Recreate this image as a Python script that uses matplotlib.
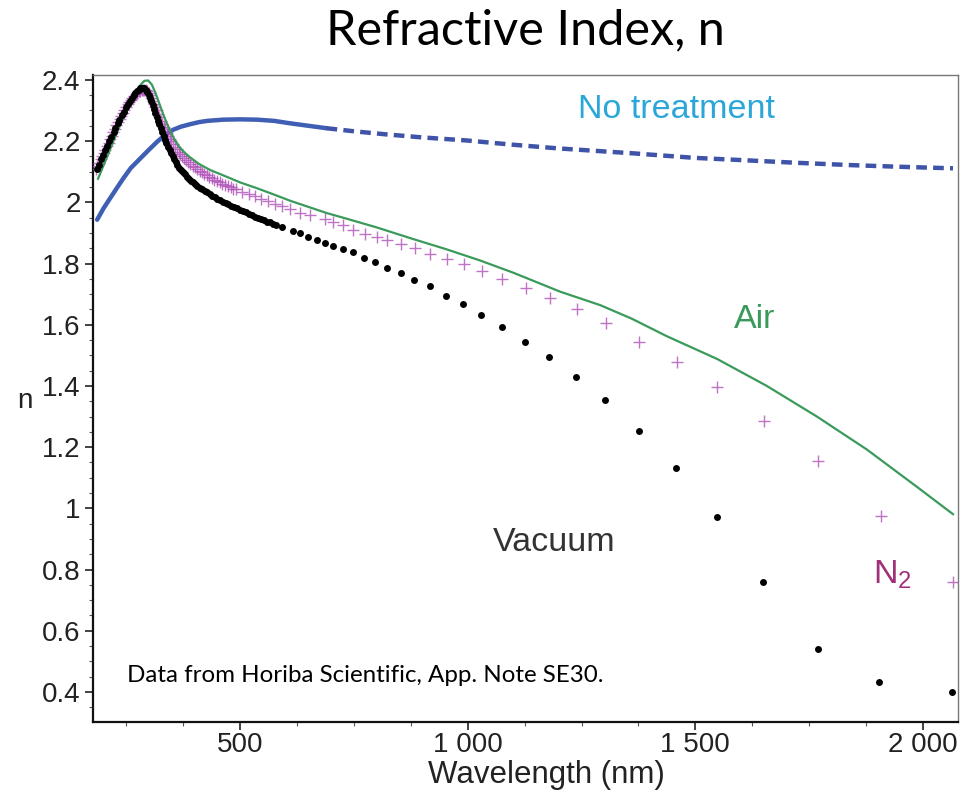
import matplotlib
matplotlib.use("Agg")
import matplotlib.pyplot as plt
from matplotlib.ticker import MultipleLocator, FixedLocator, FixedFormatter

plt.rcParams['font.family'] = ['Liberation Sans', 'DejaVu Sans']
plt.rcParams['mathtext.fontset'] = 'custom'
plt.rcParams['mathtext.rm'] = 'Liberation Sans'

# Vacuum annealed film (black dots)
vac_wl = [186, 190, 195, 199, 204, 208, 213, 217, 222, 226, 231, 235, 240, 244, 249,
          253, 258, 262, 266, 270, 274, 278, 281, 284, 287, 290, 293,
          296, 299, 302, 305, 308, 311, 314, 317, 320, 323, 326, 329, 332, 335, 338,
          341, 345, 348, 352, 355, 359, 362, 366, 370, 374, 378, 383, 387, 392, 396,
          401, 406, 411, 416, 422, 427, 433, 438, 444, 450, 456, 462, 468, 474, 481,
          487, 494, 500, 507, 513, 520, 526, 533, 539, 546, 552, 559, 565, 572, 578,
          592, 616, 632, 649, 669, 687, 704, 726, 748, 772, 797, 823, 854, 882, 917,
          952, 990, 1029, 1075, 1126, 1179, 1238, 1302, 1376, 1458, 1548, 1649, 1769,
          1903, 2064]
vac_n = [2.110, 2.123, 2.140, 2.153, 2.170, 2.183, 2.200, 2.213, 2.230, 2.242, 2.258,
         2.270, 2.285, 2.296, 2.310, 2.320, 2.332, 2.341, 2.350, 2.357, 2.363, 2.368,
         2.372, 2.374, 2.375, 2.373, 2.368, 2.360, 2.352, 2.341, 2.330, 2.318, 2.305,
         2.292, 2.280, 2.267, 2.255, 2.242, 2.230, 2.217, 2.205, 2.193, 2.182, 2.171,
         2.160, 2.150, 2.140, 2.131, 2.122, 2.113, 2.105, 2.098, 2.091, 2.084, 2.077,
         2.071, 2.065, 2.059, 2.053, 2.047, 2.042, 2.037, 2.032, 2.027, 2.022, 2.016,
         2.011, 2.006, 2.002, 1.998, 1.994, 1.989, 1.985, 1.980, 1.976, 1.971, 1.967,
         1.962, 1.958, 1.953, 1.949, 1.945, 1.941, 1.937, 1.934, 1.930, 1.927,
         1.920, 1.907, 1.901, 1.888, 1.878, 1.868, 1.858, 1.848, 1.836, 1.819, 1.806,
         1.786, 1.770, 1.747, 1.725, 1.695, 1.669, 1.633, 1.594, 1.545, 1.493, 1.428,
         1.353, 1.252, 1.131, 0.971, 0.759, 0.540, 0.433, 0.400]

# N2 annealed film (plus markers)
n2_wl = [183, 186.5, 190, 193.5, 197, 200.5, 204, 207.5, 211, 214.5, 218, 221.5, 225,
         228.5, 232, 235.5, 239, 242.5, 246, 249.5, 253, 256.5, 260, 263.5, 267, 270.5,
         274, 277.5, 281, 284, 287, 290, 293, 296, 299, 302, 305, 308, 311, 314, 317,
         320, 323, 326, 329, 332, 335, 338.5, 342, 345.5, 349, 353, 357, 361, 365, 369,
         373, 377.5, 382, 386.5, 391, 396, 401, 406, 411, 416, 421, 426.5, 432, 437.5,
         443, 449, 455, 461, 467, 473, 479, 485.5, 492, 505, 519, 533, 547, 562,
         577, 593, 610, 632, 654, 687, 704, 726, 748, 775, 801, 823, 854, 884, 917,
         955, 992, 1032, 1075, 1128, 1181, 1240, 1304, 1376, 1460, 1548, 1651, 1770,
         1908, 2066]
n2_n = [2.110, 2.120, 2.130, 2.140, 2.150, 2.161, 2.172, 2.183, 2.195, 2.206, 2.218,
        2.229, 2.240, 2.251, 2.262, 2.272, 2.283, 2.293, 2.302, 2.311, 2.320, 2.328,
        2.335, 2.342, 2.348, 2.353, 2.358, 2.362, 2.365, 2.367, 2.368, 2.368, 2.366,
        2.363, 2.358, 2.351, 2.342, 2.332, 2.322, 2.311, 2.300, 2.289, 2.278, 2.267,
        2.257, 2.247, 2.238, 2.228, 2.218, 2.208, 2.199, 2.190, 2.181, 2.173, 2.165,
        2.158, 2.151, 2.144, 2.138, 2.132, 2.126, 2.120, 2.114, 2.108, 2.103, 2.098,
        2.093, 2.088, 2.083, 2.078, 2.074, 2.069, 2.065, 2.061, 2.057, 2.053, 2.049,
        2.045, 2.042, 2.035, 2.028, 2.020, 2.012, 2.004, 1.996, 1.987, 1.977, 1.966,
        1.959, 1.946, 1.937, 1.927, 1.911, 1.898, 1.888, 1.878, 1.865, 1.852, 1.832,
        1.816, 1.800, 1.777, 1.751, 1.721, 1.686, 1.650, 1.604, 1.545, 1.477, 1.395,
        1.287, 1.154, 0.974, 0.759]

# Air annealed film (green line)
air_wl = [188, 200, 215, 230, 245, 260, 272, 282, 290, 298, 306, 314, 322, 330, 338,
          346, 356, 368, 380, 390, 410, 435, 463, 500, 537, 575, 610, 650, 690, 735,
          800, 880, 950, 1027, 1100, 1203, 1291, 1360, 1438, 1548, 1657, 1767, 1877,
          1987, 2066]
air_n = [2.077, 2.120, 2.175, 2.230, 2.280, 2.325, 2.360, 2.385, 2.397, 2.398, 2.385,
         2.358, 2.325, 2.292, 2.262, 2.235, 2.205, 2.178, 2.160, 2.147, 2.125, 2.105,
         2.088, 2.065, 2.046, 2.025, 2.005, 1.985, 1.965, 1.946, 1.918, 1.880, 1.848,
         1.810, 1.770, 1.708, 1.664, 1.620, 1.562, 1.488, 1.400, 1.300, 1.192, 1.070,
         0.981]

# untreated film (blue): measured range solid, extended range dashed
raw_wl = [186, 200, 214, 230, 243, 260, 280, 300, 318, 335, 353, 370, 390, 410, 428,
          463, 500, 537, 575, 610, 650, 690]
raw_n = [1.943, 1.980, 2.012, 2.048, 2.077, 2.112, 2.142, 2.172, 2.198, 2.220, 2.237,
         2.247, 2.255, 2.262, 2.266, 2.270, 2.271, 2.270, 2.266, 2.258, 2.250, 2.242]
raw_ext_wl = [690, 750, 820, 900, 998, 1100, 1200, 1363, 1500, 1600, 1723, 1850, 1950, 2066]
raw_ext_n = [2.242, 2.232, 2.222, 2.212, 2.202, 2.188, 2.176, 2.160, 2.145, 2.138,
             2.129, 2.121, 2.116, 2.111]

x_ticks = [500, 1000, 1500, 2000]
x_labels = ['500', '1 000', '1 500', '2 000']
y_ticks = [0.4, 0.6, 0.8, 1.0, 1.2, 1.4, 1.6, 1.8, 2.0, 2.2, 2.4]
y_labels = ['0.4', '0.6', '0.8', '1', '1.2', '1.4', '1.6', '1.8', '2', '2.2', '2.4']

fig = plt.figure(figsize=(9.67, 7.90), dpi=100)
ax = fig.add_axes([0.0962, 0.0861, 0.8945, 0.819])

ax.plot(raw_wl, raw_n, '-', color='#3f5fb4', lw=3.2, solid_capstyle='round', zorder=2)
ax.plot(raw_ext_wl, raw_ext_n, color='#3f54a8', lw=3.2, linestyle=(0, (2.4, 1.4)), zorder=2)
ax.plot(n2_wl, n2_n, '+', color='#b050b8', ms=8, mew=1.0, alpha=0.8, zorder=3)
ax.plot(air_wl, air_n, '-', color='#3a9a5a', lw=1.6, zorder=4)
ax.plot(vac_wl, vac_n, 'o', color='black', ms=5, mew=0, zorder=5)

ax.set_xlim(177, 2077)
ax.set_ylim(0.302, 2.416)

ax.xaxis.set_major_locator(FixedLocator(x_ticks))
ax.xaxis.set_major_formatter(FixedFormatter(x_labels))
ax.xaxis.set_minor_locator(MultipleLocator(125))
ax.yaxis.set_major_locator(FixedLocator(y_ticks))
ax.yaxis.set_major_formatter(FixedFormatter(y_labels))
ax.yaxis.set_minor_locator(MultipleLocator(0.05))

ax.tick_params(which='major', direction='out', length=6, width=1.2, labelsize=20,
               colors='#222222', pad=3)
ax.tick_params(axis='x', which='major', pad=1)
ax.tick_params(which='minor', direction='out', length=3, width=0.8, color='#555555')

for side in ['left', 'bottom']:
    ax.spines[side].set_linewidth(1.6)
    ax.spines[side].set_color('#111111')
for side in ['top', 'right']:
    ax.spines[side].set_linewidth(1.0)
    ax.spines[side].set_color('#777777')

# axis titles placed by hand, the x one sits right under the tick labels
fig.text(546 / 967, 1 - 775 / 790, 'Wavelength (nm)', fontsize=22.5, color='#222222',
         ha='center', va='center')
fig.text(25 / 967, 1 - 401 / 790, 'n', fontsize=20, color='#222222',
         ha='center', va='center')

fig.text(0.543, 0.962, 'Refractive Index, n', fontsize=35, family=['Lato', 'DejaVu Sans'],
         ha='center', va='center', color='black')

ax.text(1458, 2.302, 'No treatment', fontsize=24.5, color='#2aa6d8', ha='center', va='center')
ax.text(1631, 1.617, 'Air', fontsize=24.5, color='#3a9a5a', ha='center', va='center')
ax.text(1190, 0.889, 'Vacuum', fontsize=24.5, color='#333333', ha='center', va='center')
ax.text(1934, 0.785, r'N$_2$', fontsize=24.5, color='#a0307a', ha='center', va='center')
ax.text(252, 0.455, 'Data from Horiba Scientific, App. Note SE30.', fontsize=17.4,
        family=['Lato', 'DejaVu Sans'], ha='left', va='center', color='black')

fig.savefig('out.png', dpi=100)
